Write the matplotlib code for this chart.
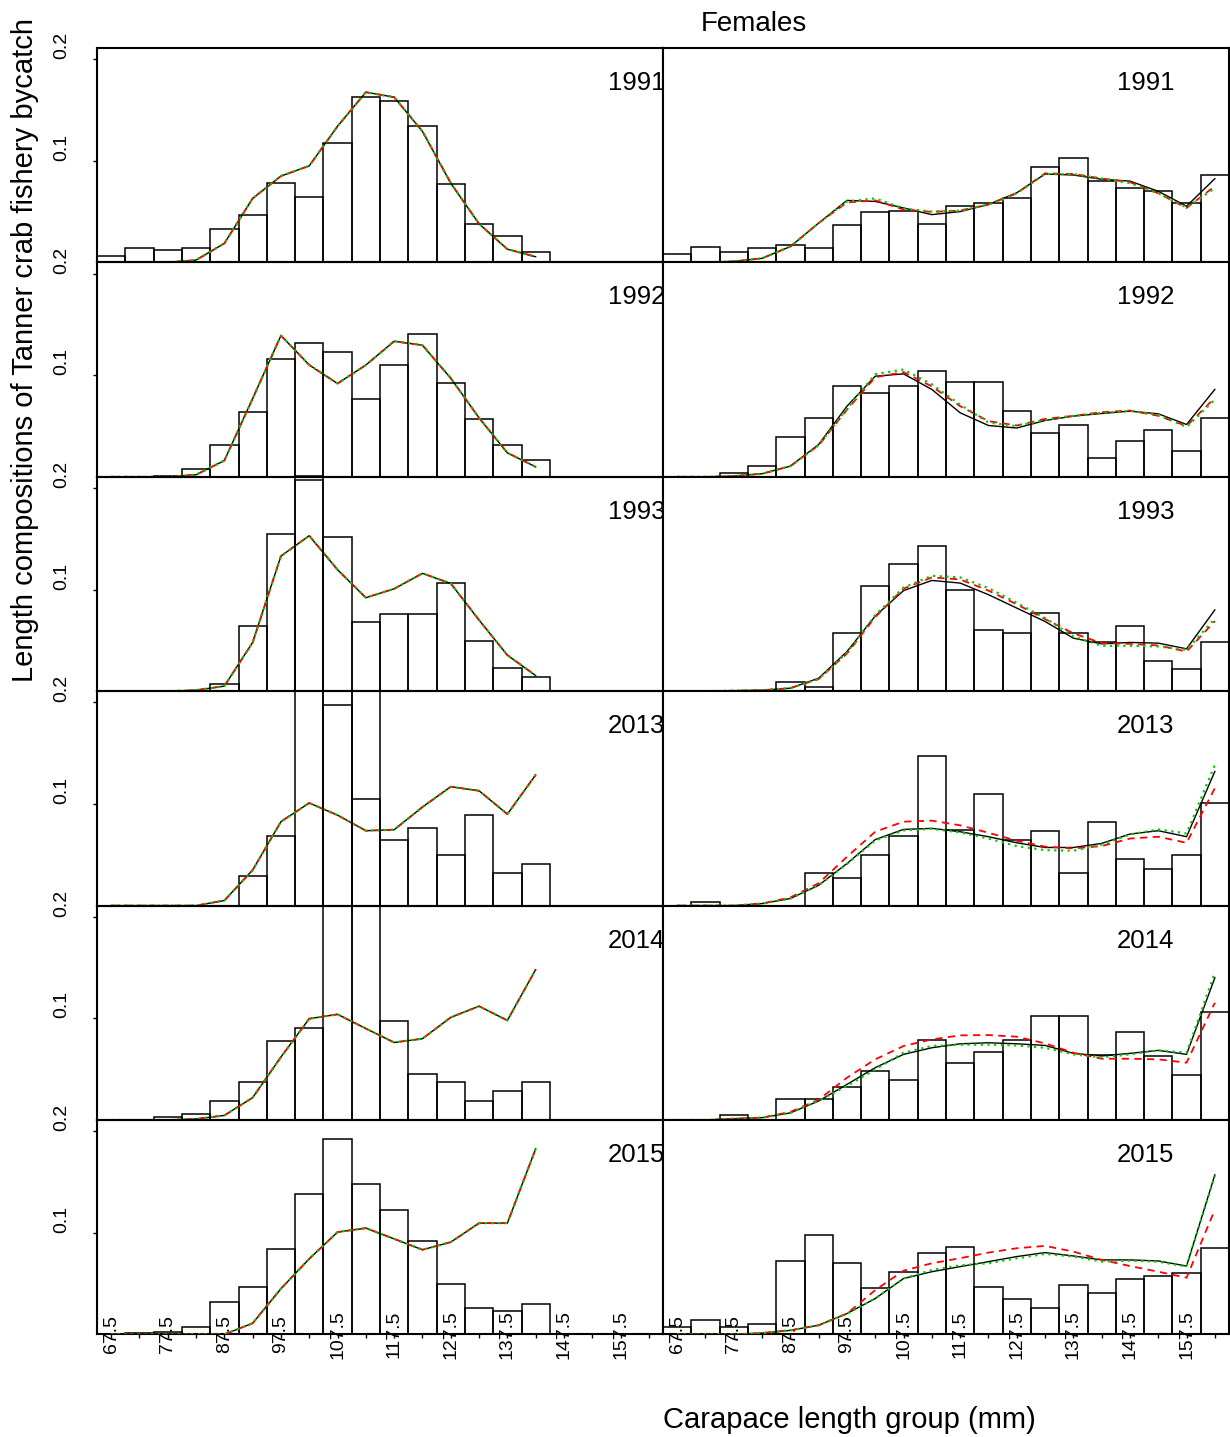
import matplotlib
matplotlib.use("Agg")
import matplotlib.pyplot as plt

plt.rcParams['font.family'] = ['Liberation Sans', 'DejaVu Sans']

# ---------------- data ----------------
years = ['1991', '1992', '1993', '2013', '2014', '2015']

bins_male = [67.5, 72.5, 77.5, 82.5, 87.5, 92.5, 97.5, 102.5,
             107.5, 112.5, 117.5, 122.5, 127.5, 132.5, 137.5, 142.5]
bins_female = [67.5, 72.5, 77.5, 82.5, 87.5, 92.5, 97.5, 102.5, 107.5, 112.5,
               117.5, 122.5, 127.5, 132.5, 137.5, 142.5, 147.5, 152.5, 157.5, 162.5]

tick_positions = bins_female
tick_labels = ['67.5', '', '77.5', '', '87.5', '', '97.5', '', '107.5', '',
               '117.5', '', '127.5', '', '137.5', '', '147.5', '', '157.5', '']

# Males (left column): observed proportions and fitted lines
obs_M_1991 = [0.0066, 0.0141, 0.0125, 0.0141, 0.0332, 0.0463, 0.0785, 0.0640,
              0.1179, 0.1632, 0.1589, 0.1340, 0.0772, 0.0378, 0.0256, 0.0099]
fit_M_1991 = [0, 0, 0, 0.0023, 0.0187, 0.063, 0.085, 0.095,
              0.134, 0.1675, 0.1626, 0.129, 0.078, 0.038, 0.013, 0.0056]

obs_M_1992 = [0, 0, 0.0007, 0.008, 0.031, 0.0636, 0.116, 0.132,
              0.123, 0.0764, 0.110, 0.141, 0.0928, 0.0564, 0.031, 0.0167]
fit_M_1992 = [0, 0, 0, 0.002, 0.016, 0.077, 0.139, 0.110,
              0.0918, 0.110, 0.1334, 0.1295, 0.097, 0.058, 0.0236, 0.0098]

obs_M_1993 = [0, 0, 0, 0, 0.0069, 0.0637, 0.1547, 0.212,
              0.1514, 0.0683, 0.0755, 0.0755, 0.106, 0.0493, 0.023, 0.0141]
fit_M_1993 = [0, 0, 0, 0.001, 0.005, 0.048, 0.133, 0.153,
              0.1195, 0.092, 0.1008, 0.116, 0.106, 0.070, 0.0355, 0.0154]

obs_M_2013 = [0, 0, 0, 0, 0, 0.0293, 0.0688, 0.419,
              0.197, 0.105, 0.0645, 0.076, 0.0497, 0.089, 0.032, 0.0408]
fit_M_2013 = [0, 0, 0, 0, 0.005, 0.035, 0.0826, 0.101,
              0.089, 0.0737, 0.0747, 0.097, 0.117, 0.113, 0.090, 0.1286]

obs_M_2014 = [0, 0, 0.003, 0.006, 0.0188, 0.0377, 0.078, 0.091,
              0.422, 0.422, 0.097, 0.045, 0.0377, 0.0188, 0.0289, 0.0377]
fit_M_2014 = [0, 0, 0, 0.001, 0.0045, 0.022, 0.062, 0.0997,
              0.104, 0.090, 0.0763, 0.080, 0.101, 0.112, 0.098, 0.148]

obs_M_2015 = [0, 0.0013, 0.0026, 0.0072, 0.0318, 0.0466, 0.0843, 0.1384,
              0.1925, 0.1485, 0.1223, 0.0918, 0.0495, 0.0262, 0.023, 0.0302]
fit_M_2015 = [0, 0, 0, 0, 0, 0.011, 0.045, 0.0744,
              0.1007, 0.1046, 0.094, 0.0833, 0.0908, 0.1095, 0.1095, 0.1826]

# Females (right column): observed, and three model fits (black, red, green)
obs_F_1991 = [0.0083, 0.0156, 0.0099, 0.0142, 0.0172, 0.0142, 0.0364, 0.0497, 0.051, 0.0377,
              0.0556, 0.0583, 0.0629, 0.094, 0.1026, 0.080, 0.0728, 0.070, 0.0583, 0.0864]
blk_F_1991 = [0, 0, 0.001, 0.004, 0.0156, 0.0387, 0.061, 0.060, 0.0536, 0.047,
              0.050, 0.057, 0.0685, 0.087, 0.086, 0.0818, 0.080, 0.070, 0.0553, 0.0824]
red_F_1991 = [0, 0, 0.001, 0.004, 0.0156, 0.0387, 0.059, 0.061, 0.052, 0.0497,
              0.051, 0.057, 0.068, 0.0877, 0.087, 0.0825, 0.079, 0.068, 0.0536, 0.075]
grn_F_1991 = [0, 0, 0.001, 0.004, 0.0156, 0.0387, 0.060, 0.063, 0.053, 0.050,
              0.051, 0.057, 0.068, 0.087, 0.087, 0.0825, 0.078, 0.068, 0.054, 0.073]

obs_F_1992 = [0, 0, 0.0033, 0.011, 0.0387, 0.0577, 0.0898, 0.0826, 0.0898, 0.1043,
              0.0931, 0.0931, 0.0652, 0.0433, 0.0505, 0.0187, 0.0357, 0.0459, 0.0252, 0.0577]
blk_F_1992 = [0, 0, 0.0007, 0.003, 0.0105, 0.0318, 0.0695, 0.099, 0.1013, 0.086,
              0.063, 0.0505, 0.048, 0.0554, 0.0597, 0.0623, 0.0646, 0.062, 0.0515, 0.086]
red_F_1992 = [0, 0, 0.0007, 0.003, 0.0105, 0.031, 0.066, 0.098, 0.103, 0.089,
              0.0695, 0.0548, 0.0505, 0.057, 0.060, 0.0636, 0.0652, 0.060, 0.050, 0.0777]
grn_F_1992 = [0, 0, 0.0007, 0.003, 0.0105, 0.031, 0.067, 0.101, 0.1056, 0.091,
              0.071, 0.0535, 0.0498, 0.056, 0.060, 0.063, 0.065, 0.061, 0.049, 0.076]

obs_F_1993 = [0, 0, 0, 0, 0.0089, 0.0039, 0.0568, 0.1034, 0.125, 0.1429,
              0.0992, 0.0598, 0.0568, 0.0772, 0.0568, 0.048, 0.064, 0.0302, 0.0217, 0.048]
blk_F_1993 = [0, 0, 0.0005, 0.001, 0.003, 0.0128, 0.039, 0.074, 0.099, 0.109,
              0.1064, 0.095, 0.0818, 0.0686, 0.0522, 0.0466, 0.048, 0.0473, 0.0417, 0.080]
red_F_1993 = [0, 0, 0.0005, 0.001, 0.003, 0.012, 0.037, 0.073, 0.101, 0.112,
              0.110, 0.099, 0.0855, 0.071, 0.057, 0.0473, 0.0466, 0.045, 0.039, 0.069]
grn_F_1993 = [0, 0, 0.0005, 0.001, 0.003, 0.012, 0.038, 0.075, 0.102, 0.1136,
              0.112, 0.1015, 0.087, 0.072, 0.0539, 0.0447, 0.0447, 0.044, 0.0408, 0.0713]

obs_F_2013 = [0, 0.004, 0, 0, 0, 0.0322, 0.0276, 0.0497, 0.0688, 0.1477,
              0.0743, 0.110, 0.0645, 0.0734, 0.0322, 0.0822, 0.0454, 0.0365, 0.0497, 0.1013]
blk_F_2013 = [0, 0, 0, 0.002, 0.007, 0.020, 0.0414, 0.065, 0.075, 0.076,
              0.0727, 0.0678, 0.0618, 0.0572, 0.0572, 0.0612, 0.0704, 0.0737, 0.0678, 0.132]
red_F_2013 = [0, 0, 0, 0.002, 0.008, 0.022, 0.048, 0.0727, 0.0826, 0.0836,
              0.079, 0.0717, 0.0638, 0.058, 0.0563, 0.0586, 0.066, 0.0678, 0.0618, 0.1155]
grn_F_2013 = [0, 0, 0, 0.002, 0.007, 0.020, 0.041, 0.064, 0.074, 0.0755,
              0.072, 0.066, 0.0585, 0.0546, 0.054, 0.060, 0.070, 0.075, 0.071, 0.1385]

obs_F_2014 = [0, 0, 0.0046, 0, 0.0207, 0.0207, 0.0321, 0.0482, 0.0397, 0.0787,
              0.0557, 0.0672, 0.0787, 0.1023, 0.1023, 0.0636, 0.0862, 0.063, 0.0443, 0.1066]
blk_F_2014 = [0, 0, 0.0013, 0.0023, 0.007, 0.0187, 0.035, 0.0515, 0.0646, 0.0711,
              0.075, 0.076, 0.075, 0.0734, 0.0656, 0.063, 0.0656, 0.0685, 0.0646, 0.140]
red_F_2014 = [0, 0, 0.0013, 0.0023, 0.008, 0.020, 0.0416, 0.0597, 0.0728, 0.0793,
              0.0833, 0.0836, 0.082, 0.0754, 0.0662, 0.0603, 0.0603, 0.0597, 0.0564, 0.1154]
grn_F_2014 = [0, 0, 0.0013, 0.0023, 0.007, 0.019, 0.0334, 0.0498, 0.0662, 0.0728,
              0.0741, 0.0741, 0.0734, 0.0711, 0.0646, 0.0616, 0.0646, 0.0685, 0.0662, 0.145]

obs_F_2015 = [0.0073, 0.0145, 0.0073, 0.0099, 0.072, 0.098, 0.0703, 0.0452, 0.0614, 0.0805,
              0.0865, 0.0469, 0.0353, 0.0264, 0.0482, 0.0409, 0.0541, 0.0571, 0.060, 0.0848]
blk_F_2015 = [0, 0, 0, 0.0013, 0.004, 0.009, 0.0205, 0.0353, 0.055, 0.0617,
              0.0667, 0.0716, 0.0766, 0.0805, 0.0772, 0.0733, 0.0733, 0.0723, 0.0673, 0.157]
red_F_2015 = [0, 0, 0, 0.0013, 0.004, 0.009, 0.0205, 0.0436, 0.0627, 0.070,
              0.075, 0.0805, 0.0848, 0.0871, 0.0815, 0.0733, 0.0673, 0.0617, 0.0558, 0.1228]
grn_F_2015 = [0, 0, 0, 0.0013, 0.004, 0.009, 0.0205, 0.0353, 0.055, 0.0634,
              0.068, 0.070, 0.0749, 0.0792, 0.0766, 0.0716, 0.0726, 0.0716, 0.0667, 0.156]

male_obs = [obs_M_1991, obs_M_1992, obs_M_1993, obs_M_2013, obs_M_2014, obs_M_2015]
male_fit = [fit_M_1991, fit_M_1992, fit_M_1993, fit_M_2013, fit_M_2014, fit_M_2015]
fem_obs = [obs_F_1991, obs_F_1992, obs_F_1993, obs_F_2013, obs_F_2014, obs_F_2015]
fem_blk = [blk_F_1991, blk_F_1992, blk_F_1993, blk_F_2013, blk_F_2014, blk_F_2015]
fem_red = [red_F_1991, red_F_1992, red_F_1993, red_F_2013, red_F_2014, red_F_2015]
fem_grn = [grn_F_1991, grn_F_1992, grn_F_1993, grn_F_2013, grn_F_2014, grn_F_2015]

# ---------------- layout ----------------
W, H = 1230, 1437
fig = plt.figure(figsize=(W / 100, H / 100), dpi=100)

def rect(x0, top, w, h):
    return [x0 / W, 1 - (top + h) / H, w / W, h / H]

row_top0 = 48
row_h = 214.4
col_x = [97, 663]
col_w = 566
YMAX = 0.211
GREEN = '#00CD00'

def draw_panel(ax, bins, obs, blk, red, grn):
    ax.bar(bins, obs, width=5, align='center', facecolor='none',
           edgecolor='black', linewidth=1.1, clip_on=False, zorder=1)
    ax.plot(bins, blk, color='black', lw=1.0, zorder=3)
    ax.plot(bins, red, color='red', lw=1.3, dashes=(4, 3), zorder=4)
    ax.plot(bins, grn, color=GREEN, lw=1.6, dashes=(1, 2), zorder=5)
    ax.set_xlim(65, 165)
    ax.set_ylim(0, YMAX)
    for s in ax.spines.values():
        s.set_linewidth(1.5)

# left column (males)
for i, yr in enumerate(years):
    top = row_top0 + i * row_h
    ax = fig.add_axes(rect(col_x[0], top, col_w, row_h))
    ax.set_facecolor('none')
    draw_panel(ax, bins_male, male_obs[i], male_fit[i], male_fit[i], male_fit[i])
    ax.set_yticks([0.1, 0.2])
    ax.set_yticklabels(['0.1', '0.2'], rotation=90, va='bottom', ha='right')
    ax.tick_params(axis='y', direction='out', length=3, width=1, pad=16, labelsize=14)
    ax.text(155.3, 0.804, yr, transform=ax.get_xaxis_transform(), fontsize=18.5,
            ha='left', va='baseline', zorder=6)
    if i == len(years) - 1:
        ax.set_xticks(tick_positions)
        ax.set_xticklabels(tick_labels, rotation=90, va='center', ha='center')
        ax.tick_params(axis='x', direction='out', length=3, width=1, pad=-3, labelsize=14)
    else:
        ax.set_xticks([])

# right column (females)
for i, yr in enumerate(years):
    top = row_top0 + i * row_h
    ax = fig.add_axes(rect(col_x[1], top, col_w, row_h))
    ax.set_facecolor('white')
    draw_panel(ax, bins_female, fem_obs[i], fem_blk[i], fem_red[i], fem_grn[i])
    ax.set_yticks([])
    ax.text(145.2, 0.804, yr, transform=ax.get_xaxis_transform(), fontsize=18.5,
            ha='left', va='baseline', zorder=6)
    if i == len(years) - 1:
        ax.set_xticks(tick_positions)
        ax.set_xticklabels(tick_labels, rotation=90, va='center', ha='center')
        ax.tick_params(axis='x', direction='out', length=3, width=1, pad=-3, labelsize=14)
    else:
        ax.set_xticks([])

fig.text(754 / W, 1 - 31 / H, 'Females', fontsize=20, ha='center', va='baseline')
fig.text(849 / W, 1 - 1428 / H, 'Carapace length group (mm)', fontsize=21,
         ha='center', va='baseline')
fig.text(25 / W, 1 - 350 / H, 'Length compositions of Tanner crab fishery bycatch',
         fontsize=21, rotation=90, ha='center', va='center')

fig.savefig('out.png', dpi=100)
